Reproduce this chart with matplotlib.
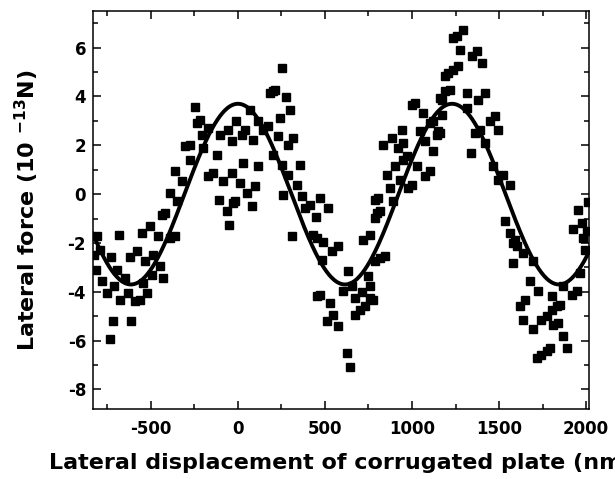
import numpy as np
import matplotlib
matplotlib.use("Agg")
from matplotlib import pyplot as plt
from matplotlib.ticker import MultipleLocator

# measured points: lateral displacement (nm) and lateral force (1e-13 N)
x_nm = [-825, -816, -812, -793, -783, -755, -736, -732, -716, -713, -697, -682, -678, -649, -630,
        -621, -612, -592, -582, -563, -553, -544, -534, -525, -506, -496, -486, -458, -448, -439,
        -429, -420, -391, -391, -362, -362, -352, -324, -305, -276, -276, -247, -236, -218, -209,
        -200, -170, -170, -142, -122, -108, -103, -85, -65, -56, -50, -36, -36, -30, -17,
        -11, 11, 21, 30, 40, 50, 69, 79, 88, 98, 117, 117, 146, 174, 184,
        203, 203, 213, 232, 241, 251, 251, 260, 276, 289, 289, 299, 308, 318, 337,
        355, 366, 385, 414, 433, 452, 448, 452, 471, 471, 481, 490, 510, 519, 529,
        538, 548, 576, 576, 605, 624, 634, 644, 653, 672, 672, 701, 711, 720, 730,
        749, 759, 759, 759, 787, 787, 776, 787, 797, 807, 816, 816, 835, 845, 855,
        874, 883, 893, 902, 922, 931, 941, 950, 950, 969, 979, 998, 998, 1017, 1026,
        1046, 1065, 1075, 1075, 1103, 1103, 1123, 1123, 1142, 1151, 1161, 1190, 1161, 1171, 1171,
        1190, 1209, 1218, 1238, 1238, 1257, 1266, 1276, 1295, 1314, 1314, 1339, 1343, 1362, 1371,
        1381, 1390, 1400, 1419, 1419, 1448, 1467, 1477, 1496, 1496, 1525, 1534, 1563, 1563, 1582,
        1582, 1592, 1601, 1621, 1640, 1640, 1649, 1678, 1693, 1697, 1716, 1726, 1744, 1744, 1773,
        1773, 1792, 1803, 1803, 1812, 1831, 1841, 1850, 1870, 1870, 1889, 1917, 1927, 1946, 1956,
        1966, 1975, 1985, 1994, 2008, 2012]
force = [-2.48, -3.10, -1.73, -2.27, -3.57, -4.05, -5.92, -2.59, -5.18, -3.78, -3.10, -1.66, -4.32, -3.42, -4.05,
         -2.57, -5.21, -4.39, -2.34, -4.32, -1.59, -3.64, -2.75, -4.05, -1.32, -3.30, -2.48, -1.73, -2.96, -0.84,
         -3.43, -0.77, 0.05, -1.80, 0.93, -1.73, -0.30, 0.52, 1.96, 2.03, 1.41, 3.56, 2.92, 3.05, 2.44,
         1.89, 2.71, 0.73, 0.87, 1.62, -0.23, 2.44, 0.55, -0.70, 2.64, -1.25, 2.16, 0.87, -0.36, -0.30,
         3.01, 0.46, 2.44, 1.28, 2.64, 0.05, 3.46, -0.50, 2.23, 0.35, 2.98, 1.14, 2.64, 2.78, 4.15,
         4.21, 1.62, 4.28, 2.37, 3.12, 5.17, 1.21, -0.02, 3.97, 2.03, 0.80, 3.46, -1.73, 2.30, 0.39,
         1.18, -0.09, -0.55, -0.43, -1.66, -1.78, -0.95, -4.16, -0.16, -4.12, -2.68, -1.98, -5.21, -0.57, -4.46,
         -2.34, -4.94, -2.14, -5.42, -3.98, -6.51, -3.16, -7.10, -3.75, -4.26, -4.94, -4.73, -4.02, -1.86, -4.60,
         -3.37, -3.78, -4.26, -1.66, -0.98, -0.23, -4.32, -2.75, -0.77, -0.16, -0.70, -2.61, 2.03, -2.55, 0.80,
         0.25, 2.30, -0.30, 1.14, 1.89, 0.59, 2.64, 2.10, 1.41, 1.55, 0.25, 0.39, 3.67, 3.74, 1.14,
         2.57, 3.33, 2.16, 0.73, 2.92, 0.93, 2.98, 1.75, 2.44, 2.57, 3.94, 4.83, 2.51, 3.26, 3.87,
         4.21, 4.97, 4.28, 6.40, 5.10, 6.47, 5.24, 5.92, 6.74, 4.15, 3.53, 1.69, 5.65, 2.51, 5.85,
         3.87, 2.64, 5.38, 4.15, 2.10, 2.98, 1.14, 3.19, 2.64, 0.59, 0.80, -1.11, 0.39, -1.59, -2.00,
         -2.82, -1.86, -2.14, -4.60, -2.41, -5.14, -4.32, -3.57, -5.52, -2.75, -6.71, -3.98, -5.14, -6.58, -5.00,
         -6.44, -6.30, -4.16, -4.73, -5.35, -4.60, -5.28, -4.53, -3.78, -5.83, -6.30, -4.12, -1.43, -3.98, -0.64,
         -3.23, -1.18, -1.80, -2.27, -1.52, -0.34]

# sinusoidal fit
fit_amp = 3.7
fit_period = 1230.0
fit_center = 0.0

xlim = (-833, 2017)
ylim = (-8.8, 7.5)

plt.rcParams['font.family'] = ['DejaVu Sans']
plt.rcParams['font.weight'] = 'bold'
plt.rcParams['axes.unicode_minus'] = False
plt.rcParams['mathtext.fontset'] = 'dejavusans'

fig = plt.figure(figsize=(6.15, 4.79), dpi=100)
ax = fig.add_axes([93/615, 70/479, 496/615, 398/479])

ax.plot(x_nm, force, 's', color='black', markersize=5.4, linestyle='none')

xs = np.linspace(xlim[0], xlim[1], 600)
ax.plot(xs, fit_amp*np.cos(2*np.pi*(xs - fit_center)/fit_period), color='black', lw=2.8)

ax.set_xlim(*xlim)
ax.set_ylim(*ylim)
ax.xaxis.set_major_locator(MultipleLocator(500))
ax.xaxis.set_minor_locator(MultipleLocator(250))
ax.yaxis.set_major_locator(MultipleLocator(2))
ax.yaxis.set_minor_locator(MultipleLocator(1))

ax.tick_params(which='both', direction='in', top=True, right=True, width=1.1, labelsize=12)
ax.tick_params(which='major', length=6)
ax.tick_params(which='minor', length=3.5)
ax.tick_params(axis='x', pad=8)
ax.tick_params(axis='y', pad=5)
for s in ax.spines.values():
    s.set_linewidth(1.1)

ax.set_xlabel('Lateral displacement of corrugated plate (nm)', fontsize=16, fontweight='bold')
ax.set_ylabel('Lateral force (10 $^{\\mathbf{-13}}$N)', fontsize=16, fontweight='bold')
ax.xaxis.set_label_coords(0.5, -0.11)
ax.yaxis.set_label_coords(-0.105, 0.5)

plt.savefig('out.png')
